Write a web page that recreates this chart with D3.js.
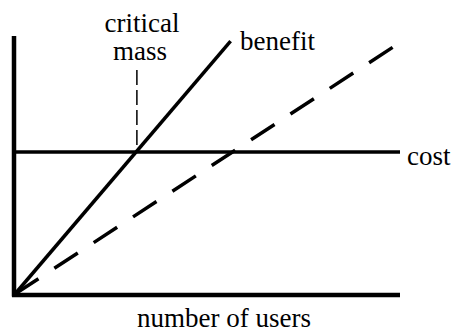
<!DOCTYPE html>
<html>
<head>
<meta charset="utf-8">
<script src="https://cdn.jsdelivr.net/npm/d3@7"></script>
</head>
<body style="margin:0; background:#fff">
<div id="chart"></div>
<script>
// values (users 0..100, value 0..100)
const benefitX = [0, 56];
const benefitY = [0, 98];
const secondX = [0, 99];
const secondY = [0, 96.5];
const costValue = 55;
const criticalMass = 31.4;
const labels = ["critical", "mass", "benefit", "cost", "number of users"];
const labelX = [142, 140, 240, 407, 224];
const labelY = [32, 60, 50, 165, 327];
const labelAnchor = ["middle", "middle", "start", "start", "middle"];

const width = 453, height = 332;
const serif = "Liberation Serif, Tinos, Times New Roman, DejaVu Serif, serif";

const svg = d3.select("#chart")
    .append("svg")
    .attr("width", width)
    .attr("height", height)
    .attr("font-family", serif);

const x = d3.scaleLinear().domain([0, 100]).range([15, 400]);
const y = d3.scaleLinear().domain([0, 100]).range([294, 36]);

// axes (plain lines, no ticks)
svg.append("line")
    .attr("x1", x(0) - 1).attr("x2", x(0) - 1)
    .attr("y1", y(100)).attr("y2", y(0) + 2.5)
    .attr("stroke", "#000").attr("stroke-width", 4.5);
svg.append("line")
    .attr("x1", x(0) - 3).attr("x2", x(100))
    .attr("y1", y(0) + 1).attr("y2", y(0) + 1)
    .attr("stroke", "#000").attr("stroke-width", 4.5);

// cost line
svg.append("line")
    .attr("x1", x(0)).attr("x2", x(100))
    .attr("y1", y(costValue)).attr("y2", y(costValue))
    .attr("stroke", "#000").attr("stroke-width", 3.5);

const line = d3.line().x(d => x(d[0])).y(d => y(d[1]));

// dashed benefit line
svg.append("path")
    .attr("d", line(d3.zip(secondX, secondY)))
    .attr("fill", "none")
    .attr("stroke", "#000")
    .attr("stroke-width", 3.5)
    .attr("stroke-dasharray", "28,19");

// solid benefit line
svg.append("path")
    .attr("d", line(d3.zip(benefitX, benefitY)))
    .attr("fill", "none")
    .attr("stroke", "#000")
    .attr("stroke-width", 3.5);

// critical mass marker
svg.append("line")
    .attr("x1", x(criticalMass) + 1).attr("x2", x(criticalMass) + 1)
    .attr("y1", 70).attr("y2", y(costValue) - 3)
    .attr("stroke", "#000").attr("stroke-width", 1.5)
    .attr("stroke-dasharray", "15,5");

// labels, done the same way as the font test that rendered serif
svg.selectAll(".lbl")
    .data(labels)
    .enter()
    .append("text")
    .attr("class", "lbl")
    .attr("x", (d, i) => labelX[i])
    .attr("y", (d, i) => labelY[i])
    .attr("text-anchor", (d, i) => labelAnchor[i])
    .attr("font-size", 27)
    .attr("font-family", serif)
    .style("font-family", () => "'Liberation Serif'")
    .text(d => d);
</script>
</body>
</html>
